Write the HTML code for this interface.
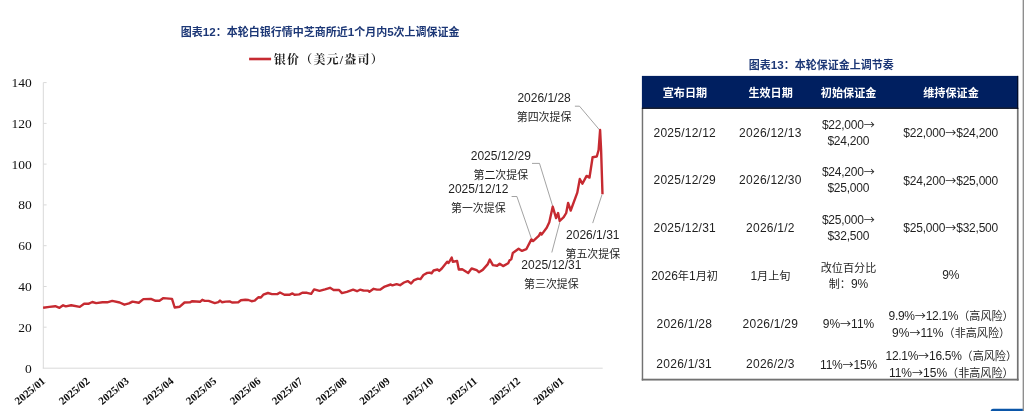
<!DOCTYPE html>
<html lang="zh">
<head>
<meta charset="utf-8">
<title>图表12 / 图表13</title>
<style>
html,body{margin:0;padding:0;background:#fff;}
body{width:1024px;height:411px;position:relative;overflow:hidden;
  font-family:"Liberation Sans","Noto Sans CJK SC",sans-serif;color:#262626;}
.abs{position:absolute;white-space:nowrap;}
.title{font-weight:bold;color:#1c3776;font-size:11px;line-height:14px;}
.title .l{font-size:11.6px;}
.legend{font-family:"Liberation Serif","Noto Serif CJK SC",serif;font-weight:bold;font-size:12px;line-height:14px;color:#1a1a1a;letter-spacing:1.2px;}
.co{text-align:center;color:#1f1f1f;transform:translateX(-50%);}
.co .n{font-size:12px;line-height:12px;height:12px;display:block;}
.co .c{font-size:10.95px;line-height:12px;height:12px;display:block;margin-top:6.9px;}
svg{position:absolute;left:0;top:0;}
.ylab text{font-family:"Liberation Serif",serif;font-size:13.5px;fill:#111;}
.xlab text{font-family:"Liberation Serif",serif;font-size:11px;font-weight:bold;fill:#111;}
/* table */
.tbl{position:absolute;left:642px;top:76px;width:376.4px;height:303.6px;box-sizing:border-box;
  border-left:1.4px solid #7f7f7f;border-right:1.5px solid #7f7f7f;border-bottom:1.7px solid #7f7f7f;}
.hd{position:absolute;left:642px;top:76px;width:376.4px;height:32.6px;background:#001f60;box-sizing:border-box;border-bottom:1px solid #000a20;border-right:1px solid #000a20;}
.th{position:absolute;top:86px;height:14px;line-height:14px;color:#fff;font-weight:bold;font-size:11.1px;transform:translateX(-50%);white-space:nowrap;}
.td{position:absolute;transform:translate(-50%,-50%);text-align:center;white-space:nowrap;font-size:11.1px;line-height:16.1px;color:#1f1f1f;}
.td .l,.td.l{font-size:12px;}
.a{font-family:"Noto Sans CJK SC",sans-serif;font-size:11px;letter-spacing:0;}
.dt{letter-spacing:0.25px;}
.mn{letter-spacing:-0.22px;}
.pc{letter-spacing:-0.3px;}
</style>
</head>
<body>
<div class="abs title" style="left:180.8px;top:24.7px;">图表<span class="l">12</span>：本轮白银行情中芝商所近<span class="l">1</span>个月内<span class="l">5</span>次上调保证金</div>
<div class="abs title" style="left:748.8px;top:58.4px;">图表<span class="l">13</span>：本轮保证金上调节奏</div>

<svg width="1024" height="411" viewBox="0 0 1024 411">
  <g stroke="#d9d9d9" stroke-width="1" fill="none">
    <line x1="43.3" y1="82.6" x2="43.3" y2="368.5"/>
    <line x1="42.8" y1="368.2" x2="602.7" y2="368.2"/>
    <line x1="43.3" y1="327.2" x2="46.6" y2="327.2"/>
<line x1="43.3" y1="286.5" x2="46.6" y2="286.5"/>
<line x1="43.3" y1="245.7" x2="46.6" y2="245.7"/>
<line x1="43.3" y1="204.9" x2="46.6" y2="204.9"/>
<line x1="43.3" y1="164.1" x2="46.6" y2="164.1"/>
<line x1="43.3" y1="123.4" x2="46.6" y2="123.4"/>
<line x1="43.3" y1="82.6" x2="46.6" y2="82.6"/>

  </g>
  <g class="ylab">
<text x="31.8" y="372.5" text-anchor="end">0</text>
<text x="31.8" y="331.7" text-anchor="end">20</text>
<text x="31.8" y="291.0" text-anchor="end">40</text>
<text x="31.8" y="250.2" text-anchor="end">60</text>
<text x="31.8" y="209.4" text-anchor="end">80</text>
<text x="31.8" y="168.6" text-anchor="end">100</text>
<text x="31.8" y="127.9" text-anchor="end">120</text>
<text x="31.8" y="87.1" text-anchor="end">140</text>
  </g>
  <g class="xlab">
<text x="46.1" y="382.1" text-anchor="end" transform="rotate(-40 46.1 382.1)">2025/01</text>
<text x="90.4" y="382.1" text-anchor="end" transform="rotate(-40 90.4 382.1)">2025/02</text>
<text x="129.8" y="382.1" text-anchor="end" transform="rotate(-40 129.8 382.1)">2025/03</text>
<text x="174.5" y="382.1" text-anchor="end" transform="rotate(-40 174.5 382.1)">2025/04</text>
<text x="217.3" y="382.1" text-anchor="end" transform="rotate(-40 217.3 382.1)">2025/05</text>
<text x="261.4" y="382.1" text-anchor="end" transform="rotate(-40 261.4 382.1)">2025/06</text>
<text x="303.4" y="382.1" text-anchor="end" transform="rotate(-40 303.4 382.1)">2025/07</text>
<text x="347.5" y="382.1" text-anchor="end" transform="rotate(-40 347.5 382.1)">2025/08</text>
<text x="390.8" y="382.1" text-anchor="end" transform="rotate(-40 390.8 382.1)">2025/09</text>
<text x="434.3" y="382.1" text-anchor="end" transform="rotate(-40 434.3 382.1)">2025/10</text>
<text x="478.0" y="382.1" text-anchor="end" transform="rotate(-40 478.0 382.1)">2025/11</text>
<text x="521.1" y="382.1" text-anchor="end" transform="rotate(-40 521.1 382.1)">2025/12</text>
<text x="564.8" y="382.1" text-anchor="end" transform="rotate(-40 564.8 382.1)">2026/01</text>
  </g>
  <line x1="249.1" y1="59" x2="271.1" y2="59" stroke="#c62a31" stroke-width="2.6"/>
  <g stroke="#8c8c8c" stroke-width="0.8" fill="none">
    <polyline points="511.6,196.5 516.9,196.5 531.4,238.5"/>
    <polyline points="532,163.4 539.5,163.4 552.7,206.2"/>
    <polyline points="559.8,222.3 551.8,252.5"/>
    <polyline points="574.9,106.2 579.5,106.2 599.6,130"/>
    <polyline points="602,194.6 592.7,223.1"/>
  </g>
  <polyline points="43.1,307.8 49.4,306.9 55.3,306.2 59.5,307.8 63.1,305.3 65.8,306.4 71.2,305.3 79.8,306.9 84.1,303.8 88.4,303.8 92.3,302.0 96.2,303.1 102.5,302.3 107.2,302.3 112.2,300.9 119.7,302.5 124.4,304.7 129.0,303.4 132.5,301.6 138.8,302.8 143.4,299.1 150.9,298.9 155.6,300.8 159.5,300.8 163.4,298.1 172.0,298.9 174.7,307.5 179.8,306.7 184.5,302.5 190.0,302.3 192.3,301.2 200.0,301.8 202.3,299.8 204.7,300.9 208.6,300.9 214.8,303.1 218.4,302.2 220.0,300.6 221.9,302.2 225.8,301.6 229.7,301.4 232.0,302.5 238.3,302.2 240.9,300.3 245.3,299.7 248.4,300.0 251.6,301.2 254.7,300.6 258.6,297.2 260.9,297.5 263.3,294.7 268.0,293.0 271.9,294.1 277.3,294.1 280.0,292.5 284.4,294.7 289.8,294.7 292.5,293.4 294.5,294.7 299.2,294.4 302.3,292.8 307.0,292.8 311.2,293.8 314.1,289.4 319.5,290.9 325.0,289.4 330.0,287.8 333.6,290.0 339.1,290.0 341.9,293.1 346.9,291.9 353.1,289.7 357.0,291.2 360.0,289.7 363.4,290.5 367.7,290.6 369.4,291.7 373.6,288.8 377.0,289.6 380.4,289.6 384.7,286.6 390.7,284.5 392.4,285.4 396.6,284.2 400.0,285.2 404.0,282.5 407.7,281.1 411.1,283.5 413.7,280.4 417.9,278.6 420.5,279.1 423.4,275.0 427.3,272.9 429.8,272.6 431.6,273.3 433.6,270.5 437.5,269.5 439.2,270.9 441.8,268.5 447.2,261.7 448.6,263.0 451.7,257.6 452.8,261.7 457.1,261.0 458.8,269.5 462.2,269.2 468.2,272.9 471.6,268.5 476.7,270.2 478.9,272.2 482.7,269.9 487.8,264.1 489.8,259.6 492.9,265.1 497.1,265.8 499.7,263.7 503.1,266.1 508.2,263.2 509.6,260.3 511.3,259.3 512.8,253.0 518.6,248.7 522.0,250.9 526.3,249.2 531.4,239.4 533.1,241.1 539.0,235.6 540.4,232.9 541.6,234.6 546.7,227.8 549.3,222.3 552.7,206.7 556.1,218.1 558.1,213.0 559.7,221.0 563.7,217.2 566.2,213.0 568.1,203.0 570.7,210.5 577.3,192.6 579.8,179.0 582.4,183.7 586.6,175.9 589.5,177.6 592.6,157.2 596.8,156.5 598.6,150.0 600.1,130.0 601.1,150.0 602.5,194.3" fill="none" stroke="#c62a31" stroke-width="2.4" stroke-linejoin="round" stroke-linecap="butt"/>
  <rect x="1022.2" y="0" width="0.6" height="411" fill="#d8d8d8"/><rect x="1022.8" y="0" width="1.2" height="411" fill="#8e8e8e"/>
  <path d="M990.8 411 L990.8 410.2 Q991.5 408.8 993.5 408.8 L1022.8 408.8 L1022.8 411 Z" fill="#0b56a8"/>
</svg>

<div class="abs legend" style="left:273.8px;top:52.7px;">银价（美元/盎司）</div>

<div class="abs co" style="left:544.1px;top:92px;"><span class="n">2026/1/28</span><span class="c">第四次提保</span></div>
<div class="abs co" style="left:500.8px;top:150px;"><span class="n">2025/12/29</span><span class="c">第二次提保</span></div>
<div class="abs co" style="left:478.3px;top:183.1px;"><span class="n">2025/12/12</span><span class="c">第一次提保</span></div>
<div class="abs co" style="left:551.4px;top:258.9px;"><span class="n">2025/12/31</span><span class="c">第三次提保</span></div>
<div class="abs co" style="left:592.8px;top:229.4px;"><span class="n">2026/1/31</span><span class="c">第五次提保</span></div>

<svg width="1024" height="411" viewBox="0 0 1024 411">
  <rect x="641.75" y="108" width="1.45" height="272.5" fill="#727272"/>
  <rect x="1016.9" y="108" width="1.7" height="272.5" fill="#727272"/>
  <rect x="641.75" y="378.7" width="376.85" height="1.85" fill="#727272"/>
  <rect x="641.9" y="75.9" width="376.3" height="32" fill="#001f60"/>
  <rect x="641.9" y="107.5" width="376.3" height="1.4" fill="#00081c"/>
  <rect x="1017.2" y="75.9" width="1.0" height="33" fill="#00081c"/>
</svg>
<div class="th" style="left:684.9px;">宣布日期</div>
<div class="th" style="left:770.6px;">生效日期</div>
<div class="th" style="left:848.6px;">初始保证金</div>
<div class="th" style="left:951px;">维持保证金</div>

<div class="td l dt" style="left:684.75px;top:132.6px;">2025/12/12</div>
<div class="td l dt" style="left:770.4px;top:132.6px;">2026/12/13</div>
<div class="td l mn" style="left:848.3px;top:132.6px;">$22,000<span class="a">→</span><br>$24,200</div>
<div class="td l mn" style="left:950.7px;top:132.9px;">$22,000<span class="a">→</span>$24,200</div>

<div class="td l dt" style="left:684.75px;top:180.2px;">2025/12/29</div>
<div class="td l dt" style="left:770.4px;top:180.2px;">2026/12/30</div>
<div class="td l mn" style="left:848.3px;top:180.2px;">$24,200<span class="a">→</span><br>$25,000</div>
<div class="td l mn" style="left:950.7px;top:180.5px;">$24,200<span class="a">→</span>$25,000</div>

<div class="td l dt" style="left:684.75px;top:228.2px;">2025/12/31</div>
<div class="td l dt" style="left:770.4px;top:228.2px;">2026/1/2</div>
<div class="td l mn" style="left:848.3px;top:227.6px;">$25,000<span class="a">→</span><br>$32,500</div>
<div class="td l mn" style="left:950.7px;top:228px;">$25,000<span class="a">→</span>$32,500</div>

<div class="td" style="left:684.5px;top:275.6px;"><span class="l">2026</span>年<span class="l">1</span>月初</div>
<div class="td" style="left:770.4px;top:275.6px;"><span class="l">1</span>月上旬</div>
<div class="td" style="left:848.5px;top:276.4px;">改位百分比<br>制：<span class="l">9%</span></div>
<div class="td l" style="left:950.8px;top:275.4px;">9%</div>

<div class="td l dt" style="left:684.3px;top:323.6px;">2026/1/28</div>
<div class="td l dt" style="left:770.4px;top:323.6px;">2026/1/29</div>
<div class="td l" style="left:848.5px;top:324.2px;">9%<span class="a">→</span>11%</div>
<div class="td" style="left:951.1px;top:324.4px;"><span class="l pc">9.9%<span class="a">→</span>12.1%</span>（高风险）<br><span class="l">9%<span class="a">→</span>11%</span>（非高风险）</div>

<div class="td l dt" style="left:684.2px;top:364.1px;">2026/1/31</div>
<div class="td l dt" style="left:770.4px;top:364.1px;">2026/2/3</div>
<div class="td l mn" style="left:848.5px;top:364.8px;">11%<span class="a">→</span>15%</div>
<div class="td" style="left:951.3px;top:364px;"><span class="l pc">12.1%<span class="a">→</span>16.5%</span>（高风险）<br><span class="l">11%<span class="a">→</span>15%</span>（非高风险）</div>

</body>
</html>
